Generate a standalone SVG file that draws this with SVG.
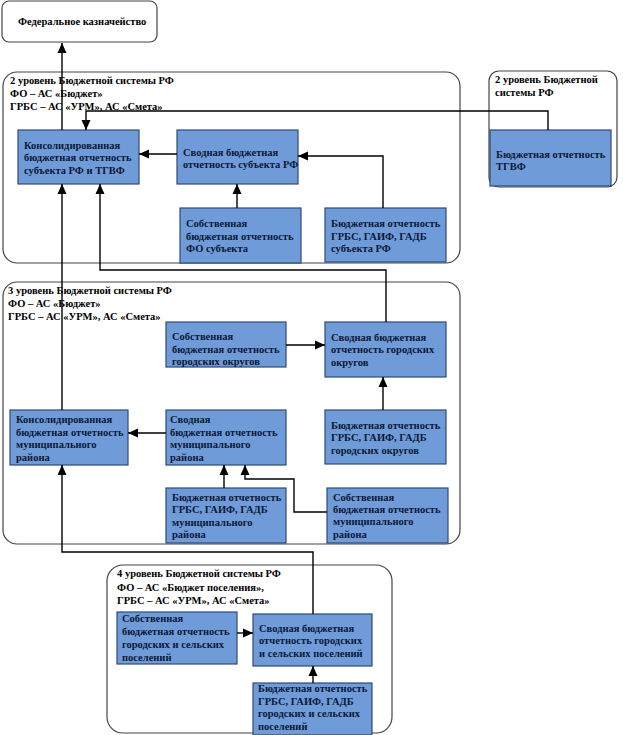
<svg xmlns="http://www.w3.org/2000/svg" width="623" height="735" viewBox="0 0 623 735">
<style>
text{font-family:"Liberation Serif","Times New Roman",serif;font-weight:bold;font-size:10.5px}
.t{fill:#000}
.b{fill:#0b1836}
.cont{fill:#fff;stroke:#444;stroke-width:1.2}
.box{fill:#6f9bd9;stroke:#2e4a78;stroke-width:1.2}
.c{fill:none;stroke:#000;stroke-width:1.4}
</style>
<defs>
<marker id="ar" markerUnits="userSpaceOnUse" markerWidth="10" markerHeight="10" refX="10" refY="5" orient="auto">
<path d="M0,0.5 L10,5 L0,9.5 z" fill="#000"/>
</marker>
</defs>
<rect width="623" height="735" fill="#fff"/>
<g id="federal">
<rect x="2" y="1" width="155" height="41" rx="7" class="cont"/>
<text x="18" y="25" class="t">Федеральное казначейство</text>
</g>
<g id="level2">
<rect x="3" y="72" width="457" height="191" rx="14" class="cont"/>
<text x="10" y="84" class="t">2 уровень Бюджетной системы РФ</text>
<text x="10" y="97" class="t">ФО – АС «Бюджет»</text>
<text x="10" y="110" class="t">ГРБС – АС «УРМ», АС «Смета»</text>
</g>
<g id="level2b">
<rect x="489" y="71" width="128" height="116" rx="10" class="cont"/>
<text x="495" y="83" class="t">2 уровень Бюджетной</text>
<text x="495" y="96" class="t">системы РФ</text>
</g>
<g id="level3">
<rect x="3" y="282" width="457" height="262" rx="14" class="cont"/>
<text x="8" y="294" class="t">3 уровень Бюджетной системы РФ</text>
<text x="8" y="307" class="t">ФО – АС «Бюджет»</text>
<text x="8" y="320" class="t">ГРБС – АС «УРМ», АС «Смета»</text>
</g>
<g id="level4">
<rect x="107" y="565" width="285" height="168" rx="16" class="cont"/>
<text x="117" y="577" class="t">4 уровень Бюджетной системы РФ</text>
<text x="117" y="591" class="t">ФО – АС «Бюджет поселения»,</text>
<text x="117" y="604" class="t">ГРБС – АС «УРМ», АС «Смета»</text>
</g>
<g id="tgvf">
<rect x="490" y="130" width="121" height="56" class="box"/>
<text x="496" y="158" class="b">Бюджетная отчетность</text>
<text x="496" y="170" class="b">ТГВФ</text>
</g>
<g id="cons-subj">
<rect x="18" y="130" width="121" height="54" class="box"/>
<text x="24" y="149" class="b">Консолидированная</text>
<text x="24" y="161" class="b">бюджетная отчетность</text>
<text x="24" y="174" class="b">субъекта РФ и ТГВФ</text>
</g>
<g id="svod-subj">
<rect x="177" y="130" width="121" height="54" class="box"/>
<text x="183" y="156" class="b">Сводная бюджетная</text>
<text x="183" y="168" class="b">отчетность субъекта РФ</text>
</g>
<g id="own-fo">
<rect x="180" y="208" width="121" height="55" class="box"/>
<text x="186" y="227" class="b">Собственная</text>
<text x="186" y="240" class="b">бюджетная отчетность</text>
<text x="186" y="252" class="b">ФО субъекта</text>
</g>
<g id="grbs-subj">
<rect x="325" y="208" width="121" height="54" class="box"/>
<text x="331" y="227" class="b">Бюджетная отчетность</text>
<text x="331" y="240" class="b">ГРБС, ГАИФ, ГАДБ</text>
<text x="331" y="252" class="b">субъекта РФ</text>
</g>
<g id="own-go">
<rect x="166" y="322" width="120" height="45" class="box"/>
<text x="172" y="340" class="b">Собственная</text>
<text x="172" y="353" class="b">бюджетная отчетность</text>
<text x="172" y="365" class="b">городских округов</text>
</g>
<g id="svod-go">
<rect x="325" y="322" width="121" height="55" class="box"/>
<text x="331" y="341" class="b">Сводная бюджетная</text>
<text x="331" y="353" class="b">отчетность городских</text>
<text x="331" y="366" class="b">округов</text>
</g>
<g id="grbs-go">
<rect x="325" y="410" width="121" height="54" class="box"/>
<text x="331" y="429" class="b">Бюджетная отчетность</text>
<text x="331" y="441" class="b">ГРБС, ГАИФ, ГАДБ</text>
<text x="331" y="454" class="b">городских округов</text>
</g>
<g id="cons-mr">
<rect x="10" y="410" width="118" height="55" class="box"/>
<text x="16" y="423" class="b">Консолидированная</text>
<text x="16" y="436" class="b">бюджетная отчетность</text>
<text x="16" y="448" class="b">муниципального</text>
<text x="16" y="461" class="b">района</text>
</g>
<g id="svod-mr">
<rect x="166" y="410" width="120" height="55" class="box"/>
<text x="170" y="423" class="b">Сводная</text>
<text x="170" y="436" class="b">бюджетная отчетность</text>
<text x="170" y="448" class="b">муниципального</text>
<text x="170" y="461" class="b">района</text>
</g>
<g id="grbs-mr">
<rect x="166" y="488" width="120" height="55" class="box"/>
<text x="172" y="501" class="b">Бюджетная отчетность</text>
<text x="172" y="513" class="b">ГРБС, ГАИФ, ГАДБ</text>
<text x="172" y="526" class="b">муниципального</text>
<text x="172" y="538" class="b">района</text>
</g>
<g id="own-mr">
<rect x="327" y="488" width="121" height="55" class="box"/>
<text x="333" y="501" class="b">Собственная</text>
<text x="333" y="513" class="b">бюджетная отчетность</text>
<text x="333" y="525" class="b">муниципального</text>
<text x="333" y="538" class="b">района</text>
</g>
<g id="own-pos">
<rect x="117" y="612" width="120" height="52" class="box"/>
<text x="122" y="622" class="b">Собственная</text>
<text x="122" y="635" class="b">бюджетная отчетность</text>
<text x="122" y="648" class="b">городских и сельских</text>
<text x="122" y="661" class="b">поселений</text>
</g>
<g id="svod-pos">
<rect x="253" y="614" width="119" height="52" class="box"/>
<text x="259" y="632" class="b">Сводная бюджетная</text>
<text x="259" y="644" class="b">отчетность городских</text>
<text x="259" y="657" class="b">и сельских поселений</text>
</g>
<g id="grbs-pos">
<rect x="253" y="683" width="119" height="52" class="box"/>
<text x="258" y="692" class="b">Бюджетная отчетность</text>
<text x="258" y="705" class="b">ГРБС, ГАИФ, ГАДБ</text>
<text x="258" y="717" class="b">городских и сельских</text>
<text x="258" y="730" class="b">поселений</text>
</g>
<g id="connectors">
<path class="c" marker-end="url(#ar)" d="M62,130 V43"/>
<path class="c" marker-end="url(#ar)" d="M548,130 V111 H86 V130"/>
<path class="c" marker-end="url(#ar)" d="M177,154 H139"/>
<path class="c" marker-end="url(#ar)" d="M383,208 V156 H298"/>
<path class="c" marker-end="url(#ar)" d="M237,208 V184"/>
<path class="c" marker-end="url(#ar)" d="M386,322 V270 H100 V184"/>
<path class="c" marker-end="url(#ar)" d="M62,410 V184"/>
<path class="c" marker-end="url(#ar)" d="M286,345 H325"/>
<path class="c" marker-end="url(#ar)" d="M383,410 V377"/>
<path class="c" marker-end="url(#ar)" d="M166,433 H128"/>
<path class="c" marker-end="url(#ar)" d="M224,488 V465"/>
<path class="c" marker-end="url(#ar)" d="M327,512 H294 V479 H245 V465"/>
<path class="c" marker-end="url(#ar)" d="M313,614 V552 H62 V465"/>
<path class="c" marker-end="url(#ar)" d="M237,633 H253"/>
<path class="c" marker-end="url(#ar)" d="M313,683 V666"/>
</g>
</svg>
